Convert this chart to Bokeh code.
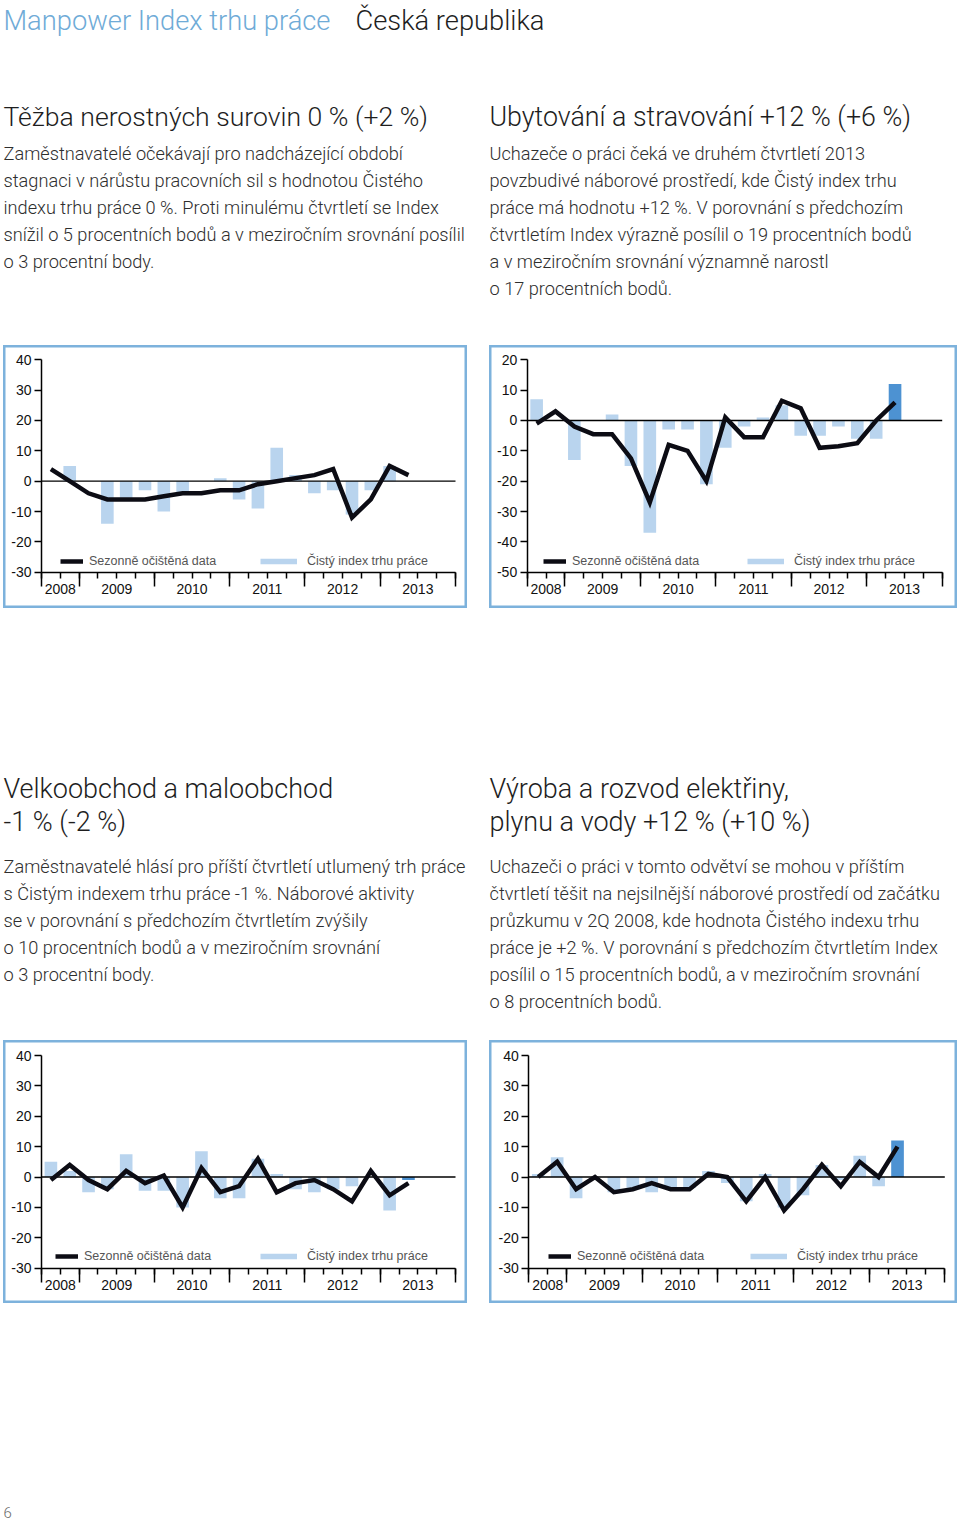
from bokeh.plotting import figure
from bokeh.models import (Range1d, LinearAxis, FixedTicker, Legend, LegendItem,
                          ColumnDataSource, Spacer)
from bokeh.layouts import column, row
from bokeh.embed import file_html
from bokeh.resources import INLINE
from bokeh.core.properties import value

# ---------------- data ----------------
quarters = ["3Q 2008", "4Q 2008",
            "1Q 2009", "2Q 2009", "3Q 2009", "4Q 2009",
            "1Q 2010", "2Q 2010", "3Q 2010", "4Q 2010",
            "1Q 2011", "2Q 2011", "3Q 2011", "4Q 2011",
            "1Q 2012", "2Q 2012", "3Q 2012", "4Q 2012",
            "1Q 2013", "2Q 2013"]
axis_years = ["2008", "2009", "2010", "2011", "2012", "2013"]
axis_quarters_per_year = [2, 4, 4, 4, 4, 4]

legend_line = "Sezonně očištěná data"
legend_bar = "Čistý index trhu práce"

# Těžba nerostných surovin
neo_mining = [0, 5, 0, -14, -6, -3, -10, -4, 0, 1, -6, -9, 11, 2, -4, -3, -11, -3, 5, 0]
sa_mining = [4, 0, -4, -6, -6, -6, -5, -4, -4, -3, -3, -1, 0, 1, 2, 4, -12, -6, 5, 2]

# Ubytování a stravování
neo_hotels = [7, 0, -13, 0, 2, -15, -37, -3, -3, -21, -9, -2, 1, 5, -5, -5, -2, -6, -6, 12]
sa_hotels = [-1, 3, -2, -4.5, -4.5, -12.5, -27, -8, -10, -20, 1, -5.5, -5.5, 6.5, 4, -9, -8.5, -7.5, 0, 6]

# Velkoobchod a maloobchod
neo_trade = [5, 2, -5, -4, 7.5, -4.5, -4.5, -10, 8.5, -7, -7, 6, 1, -4, -5, -4, -3, 0, -11, -1]
sa_trade = [-1, 4, -1, -4, 2, -2, 0.5, -10, 3, -5, -3, 6, -5, -2, -1, -4, -8, 2, -6, -2]

# Výroba a rozvod elektřiny, plynu a vody
neo_utilities = [1, 6.5, -7, 0, -5, -3.5, -5, -3.5, -3.5, 2, -2, -8, 1, -10, -6, 4, -1, 7, -3, 12]
sa_utilities = [0, 5, -4, 0, -5, -4, -2, -4, -4, 1, 0, -8, 0, -11, -4, 4, -3, 5, 0, 10]

header_left = "Manpower Index trhu práce"
header_right = "Česká republika"

title_mining = ["Těžba nerostných surovin 0 % (+2 %)"]
body_mining = ["Zaměstnavatelé očekávají pro nadcházející období",
               "stagnaci v nárůstu pracovních sil s hodnotou Čistého",
               "indexu trhu práce 0 %. Proti minulému čtvrtletí se Index",
               "snížil o 5 procentních bodů a v meziročním srovnání posílil",
               "o 3 procentní body."]
title_hotels = ["Ubytování a stravování +12 % (+6 %)"]
body_hotels = ["Uchazeče o práci čeká ve druhém čtvrtletí 2013",
               "povzbudivé náborové prostředí, kde Čistý index trhu",
               "práce má hodnotu +12 %. V porovnání s předchozím",
               "čtvrtletím Index výrazně posílil o 19 procentních bodů",
               "a v meziročním srovnání významně narostl",
               "o 17 procentních bodů."]
title_trade = ["Velkoobchod a maloobchod", "-1 % (-2 %)"]
body_trade = ["Zaměstnavatelé hlásí pro příští čtvrtletí utlumený trh práce",
              "s Čistým indexem trhu práce -1 %. Náborové aktivity",
              "se v porovnání s předchozím čtvrtletím zvýšily",
              "o 10 procentních bodů a v meziročním srovnání",
              "o 3 procentní body."]
title_utilities = ["Výroba a rozvod elektřiny,", "plynu a vody +12 % (+10 %)"]
body_utilities = ["Uchazeči o práci v tomto odvětví se mohou v příštím",
                  "čtvrtletí těšit na nejsilnější náborové prostředí od začátku",
                  "průzkumu v 2Q 2008, kde hodnota Čistého indexu trhu",
                  "práce je +2 %. V porovnání s předchozím čtvrtletím Index",
                  "posílil o 15 procentních bodů, a v meziročním srovnání",
                  "o 8 procentních bodů."]
page_number = "6"

# ---------------- styles ----------------
TEXT_FONT = "Roboto Light"
CHART_FONT = "Liberation Sans"
BORDER = "#7db2dc"
BAR = "#b9d4ee"
BAR_DARK = "#4d92d2"
LINE = "#0c0c14"


def make_chart(neo, sa, ymin, ymax, W, H, ax0, ax1, ytop, ybot, leg_x1, leg_x2, leg_cy):
    nslots = sum(axis_quarters_per_year)
    pps = (ax1 - ax0) / nslots
    ppu = (ybot - ytop) / (ymax - ymin)
    xr = Range1d(-0.5 - ax0 / pps, nslots - 0.5 + (W - ax1) / pps)
    yr = Range1d(ymin - (H - ybot) / ppu, ymax + ytop / ppu)
    p = figure(width=W, height=H, x_range=xr, y_range=yr, output_backend="svg",
               toolbar_location=None, min_border=0, x_axis_type=None, y_axis_type=None)
    p.outline_line_color = BORDER
    p.outline_line_width = 4
    p.background_fill_color = "white"
    p.border_fill_color = "white"

    xs = list(range(len(neo)))
    colors = [BAR] * (len(neo) - 1) + [BAR_DARK]
    src = ColumnDataSource(dict(x=xs, q=quarters[:len(neo)], neo=neo, sa=sa, color=colors))
    p.vbar(x="x", top="neo", bottom=0, width=0.67, fill_color="color",
           line_color=None, source=src)
    p.segment(x0=[-0.5], y0=[0], x1=[nslots - 0.5], y1=[0], line_color="black", line_width=1.4)
    ln = p.line(x="x", y="sa", line_color=LINE, line_width=4.5, line_join="miter", source=src)
    proxy = p.line(x=[float("nan")], y=[float("nan")], line_color=BAR, line_width=5.5)

    # y axis
    yticks = list(range(ymin, ymax + 1, 10))
    yax = LinearAxis(fixed_location=-0.5, ticker=FixedTicker(ticks=yticks),
                     bounds=(ymin, ymax))
    yax.major_label_overrides = {t: str(t) for t in yticks}
    yax.axis_line_width = 1.5
    yax.major_tick_line_width = 1.5
    yax.major_tick_out = 7
    yax.major_tick_in = 0
    yax.minor_tick_out = 0
    yax.major_label_standoff = 3
    yax.major_label_text_font = CHART_FONT
    yax.major_label_text_font_size = "14px"
    yax.major_label_text_color = "#111111"
    p.add_layout(yax, "left")

    # x axis: year boundaries (major) and quarter boundaries (minor)
    bounds = [-0.5]
    for n in axis_quarters_per_year:
        bounds.append(bounds[-1] + n)
    qb = [-0.5 + k for k in range(nslots + 1)]
    xax = LinearAxis(fixed_location=ymin,
                     ticker=FixedTicker(ticks=bounds, minor_ticks=qb),
                     bounds=(-0.5, nslots - 0.5))
    xax.axis_line_width = 1.5
    xax.major_tick_line_width = 1.5
    xax.minor_tick_line_width = 1.5
    xax.major_tick_out = 14
    xax.major_tick_in = 0
    xax.minor_tick_out = 6
    xax.minor_tick_in = 0
    xax.major_label_text_alpha = 0
    p.add_layout(xax, "below")

    centers = [(bounds[i] + bounds[i + 1]) / 2 for i in range(len(axis_years))]
    p.text(x=centers, y=[ymin - 17 / ppu] * len(centers), text=axis_years,
           text_font=value(CHART_FONT), text_font_size="14px", text_align="center",
           text_baseline="middle", text_color="#111111")

    common = dict(orientation="horizontal", glyph_height=16, label_height=16, padding=0,
                  margin=0, border_line_color=None, background_fill_alpha=0,
                  label_text_font=CHART_FONT, label_text_font_size="12.5px",
                  label_text_color="#555555")
    leg1 = Legend(items=[LegendItem(label=legend_line, renderers=[ln])],
                  location=(leg_x1, H - leg_cy - 8), glyph_width=23, label_standoff=6, **common)
    leg2 = Legend(items=[LegendItem(label=legend_bar, renderers=[proxy])],
                  location=(leg_x2, H - leg_cy - 8), glyph_width=37, label_standoff=10, **common)
    p.add_layout(leg1)
    p.add_layout(leg2)
    return p


def text_fig(W, H):
    p = figure(width=W, height=H, x_range=Range1d(0, W), y_range=Range1d(H, 0),
               output_backend="svg", toolbar_location=None, min_border=0,
               x_axis_type=None, y_axis_type=None)
    p.outline_line_color = None
    p.background_fill_color = "white"
    p.border_fill_color = "white"
    return p


def put(p, x, y0, lines, size, color, step):
    p.text(x=[x] * len(lines), y=[y0 + step * i for i in range(len(lines))], text=lines,
           text_font=value(TEXT_FONT), text_font_size=size, text_color=color,
           text_align="left", text_baseline="alphabetic")


TITLE_C = "#1e1e1e"
BODY_C = "#2e2e2e"
PAGE_W = 957

# Section A (page y 0..345)
secA = text_fig(PAGE_W, 345)
put(secA, 3, 20, [header_left], "27.3px", "#6fabd7", 0)
put(secA, 355, 20, [header_right], "27.3px", TITLE_C, 0)
put(secA, 3, 116, title_mining, "26.6px", TITLE_C, 33)
put(secA, 489, 116, title_hotels, "26.8px", TITLE_C, 33)
put(secA, 3, 153, body_mining, "18.2px", BODY_C, 27)
put(secA, 489, 153, body_hotels, "18.2px", BODY_C, 27)

chart1 = make_chart(neo_mining, sa_mining, -30, 40, 464, 263, 38, 452, 14.3, 226.7, 57, 257, 215.7)
chart2 = make_chart(neo_hotels, sa_hotels, -50, 20, 468, 263, 37.7, 452.7, 14.3, 226.7, 54, 258, 215.7)

# Section C (page y 608..1040)
secC = text_fig(PAGE_W, 432)
put(secC, 3, 180.5, title_trade, "27px", TITLE_C, 33)
put(secC, 489, 180.5, title_utilities, "27px", TITLE_C, 33)
put(secC, 3, 258, body_trade, "18.2px", BODY_C, 27)
put(secC, 489, 258, body_utilities, "18.2px", BODY_C, 27)

chart3 = make_chart(neo_trade, sa_trade, -30, 40, 464, 263, 38, 452, 15, 227.7, 52, 257, 215.7)
chart4 = make_chart(neo_utilities, sa_utilities, -30, 40, 468, 263, 39.3, 455.3, 15, 227.7, 59, 261, 215.7)

# Section E (page y 1303..1524)
secE = text_fig(PAGE_W, 221)
put(secE, 3, 209, [page_number], "15px", "#666666", 0)

layout = column(
    secA,
    row(Spacer(width=3, height=263), chart1, Spacer(width=22, height=263), chart2),
    secC,
    row(Spacer(width=3, height=263), chart3, Spacer(width=22, height=263), chart4),
    secE,
)

open("out.html", "w").write(file_html(layout, INLINE))
